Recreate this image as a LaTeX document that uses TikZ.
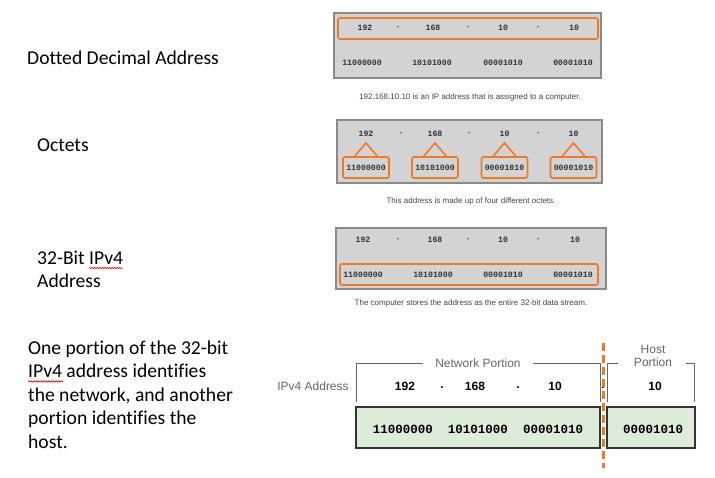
\documentclass[tikz,border=0pt]{standalone}
\usepackage{fontspec}
\setmainfont[Ligatures=NoCommon]{Carlito}
\newfontfamily\arialf{Liberation Sans}
\newfontfamily\monof{Liberation Mono}
\usetikzlibrary{decorations.pathmorphing}
\definecolor{panelfill}{HTML}{D4D3D4}
\definecolor{paneldraw}{HTML}{8A8A8A}
\definecolor{ciscoorange}{HTML}{F07A22}
\definecolor{greenfill}{HTML}{DDEBD9}
\definecolor{boxdraw}{HTML}{333333}
\definecolor{numtext}{HTML}{333333}
\definecolor{captext}{HTML}{444444}
\definecolor{brkgray}{HTML}{666666}
\tikzset{
 panel/.style={draw=paneldraw, fill=panelfill, line width=1.3pt, inner sep=0pt, outer sep=0pt},
 obox/.style={draw=ciscoorange, line width=1.6pt, rounded corners=2pt, inner sep=0pt, outer sep=0pt},
 pnum/.style={font=\monof\bfseries\fontsize{8.2}{9}\selectfont, text=numtext, inner sep=0pt},
 pcap/.style={font=\arialf\fontsize{8}{9}\selectfont, text=captext, inner sep=0pt},
 lefttxt/.style={font=\fontsize{19.6}{23.5}\selectfont, anchor=base west, inner sep=0pt},
 gbox/.style={draw=boxdraw, fill=greenfill, line width=2pt, inner sep=0pt, outer sep=0pt},
 bnum/.style={font=\arialf\bfseries\fontsize{12}{14}\selectfont, inner sep=0pt},
 bbin/.style={font=\monof\bfseries\fontsize{12.5}{14}\selectfont, inner sep=0pt},
 glabel/.style={font=\arialf\fontsize{12}{13.5}\selectfont, text=brkgray, align=center, inner sep=0pt},
 brk/.style={draw=brkgray, line width=1pt},
 odash/.style={draw=ciscoorange, line width=3pt, dash pattern=on 8pt off 4pt},
 squig/.style={draw=red, line width=0.6pt, decorate, decoration={snake, amplitude=0.7pt, segment length=2.5pt}},
 tri/.style={draw=ciscoorange, line width=1.6pt, line join=round},
}
\begin{document}
\begin{tikzpicture}[x=1pt,y=-1pt]
\useasboundingbox[fill=white] (0,0) rectangle (715,477);

% ---------- left labels ----------
\node[lefttxt] (l1) at (27,64) {Dotted Decimal Address};
\node[lefttxt] (l2) at (37,151) {Octets};
\node[lefttxt] (l3a) at (37,264) {32-Bit IPv4};
\node[lefttxt] (l3b) at (37,287) {Address};
\coordinate (sq1a) at (89,268);
\coordinate (sq1b) at (123,268);
\draw[squig] (sq1a) -- (sq1b);

\node[lefttxt] (t1) at (28,354) {One portion of the 32-bit};
\node[lefttxt] (t2) at (28,377.5) {IPv4 address identifies};
\node[lefttxt] (t3) at (28,401) {the network, and another};
\node[lefttxt] (t4) at (28,424.5) {portion identifies the};
\node[lefttxt] (t5) at (28,448) {host.};
\coordinate (sq2a) at (28,381.5);
\coordinate (sq2b) at (63,381.5);
\draw[squig] (sq2a) -- (sq2b);

% ---------- panel 1 ----------
\node[panel, minimum width=267pt, minimum height=65pt] (p1) at (467.5,45.5) {};
\node[obox, minimum width=260pt, minimum height=21pt] (o1) at (468,28.5) {};
\node[pnum] (p1d1) at (365,28) {192};
\node[pnum] (p1s1) at (398,28) {·};
\node[pnum] (p1d2) at (433,28) {168};
\node[pnum] (p1s2) at (468,28) {·};
\node[pnum] (p1d3) at (503,28) {10};
\node[pnum] (p1s3) at (538,28) {·};
\node[pnum] (p1d4) at (574,28) {10};
\node[pnum] (p1b1) at (362,63) {11000000};
\node[pnum] (p1b2) at (432,63) {10101000};
\node[pnum] (p1b3) at (503,63) {00001010};
\node[pnum] (p1b4) at (573,63) {00001010};
\node[pcap] (c1) at (470,97) {192.168.10.10 is an IP address that is assigned to a computer.};

% ---------- panel 2 ----------
\node[panel, minimum width=265pt, minimum height=63pt] (p2) at (469.5,151.5) {};
\node[pnum] (p2d1) at (366,134) {192};
\node[pnum] (p2s1) at (401,134) {·};
\node[pnum] (p2d2) at (435,134) {168};
\node[pnum] (p2s2) at (469,134) {·};
\node[pnum] (p2d3) at (504.5,134) {10};
\node[pnum] (p2s3) at (538,134) {·};
\node[pnum] (p2d4) at (573.5,134) {10};
\foreach \i/\x/\t in {1/366/11000000, 2/435/10101000, 3/504.5/00001010, 4/573.5/00001010}{
  \node[obox, minimum width=46pt, minimum height=21pt] (ob\i) at (\x,167.5) {};
  \node[pnum] (p2b\i) at (ob\i.center) {\t};
  \draw[tri] ([xshift=-12pt]ob\i.north) -- ([yshift=14pt]ob\i.north) -- ([xshift=12pt]ob\i.north);
}
\node[pcap] (c2) at (471,201) {This address is made up of four different octets.};

% ---------- panel 3 ----------
\node[panel, minimum width=270pt, minimum height=61pt] (p3) at (471,258.5) {};
\node[obox, minimum width=258pt, minimum height=21pt] (o3) at (469,274.5) {};
\node[pnum] (p3d1) at (363,240) {192};
\node[pnum] (p3s1) at (398,240) {·};
\node[pnum] (p3d2) at (435,240) {168};
\node[pnum] (p3s2) at (468,240) {·};
\node[pnum] (p3d3) at (503,240) {10};
\node[pnum] (p3s3) at (538,240) {·};
\node[pnum] (p3d4) at (575,240) {10};
\node[pnum] (p3b1) at (363,275) {11000000};
\node[pnum] (p3b2) at (433,275) {10101000};
\node[pnum] (p3b3) at (503,275) {00001010};
\node[pnum] (p3b4) at (573,275) {00001010};
\node[pcap] (c3) at (471,303) {The computer stores the address as the entire 32-bit data stream.};

% ---------- panel 4 ----------
\node[glabel, inner xsep=12pt] (np) at (478,363) {Network Portion};
\node[glabel] (hp) at (653,356) {Host\\Portion};
\draw[brk] (356,402) -- (356,363) -- (np.west);
\draw[brk] (np.east) -- (600,363) -- (600,402);
\draw[brk] (607,402) -- (607,363) -- (618,363);
\draw[brk] (686,363) -- (694,363) -- (694,402);
\node[glabel] (ipl) at (313,386) {IPv4 Address};
\node[bnum] (n1) at (405,386) {192};
\node[bnum] (nd1) at (442,388) {.};
\node[bnum] (n2) at (475,386) {168};
\node[bnum] (nd2) at (518,388) {.};
\node[bnum] (n3) at (555,386) {10};
\node[bnum] (nd3) at (603,388) {.};
\node[bnum] (n4) at (655,386) {10};
\node[gbox, minimum width=244pt, minimum height=41pt] (g1) at (478,427.5) {};
\node[gbox, minimum width=88pt, minimum height=41pt] (g2) at (651,427.5) {};
\node[bbin] (b1) at (403,429) {11000000};
\node[bbin] (b2) at (478,429) {10101000};
\node[bbin] (b3) at (553,429) {00001010};
\node[bbin] (b4) at (653,429) {00001010};
\coordinate (dtop) at (603,343);
\coordinate (dbot) at (603,468);
\draw[odash] (dtop) -- (dbot);
\end{tikzpicture}
\end{document}
